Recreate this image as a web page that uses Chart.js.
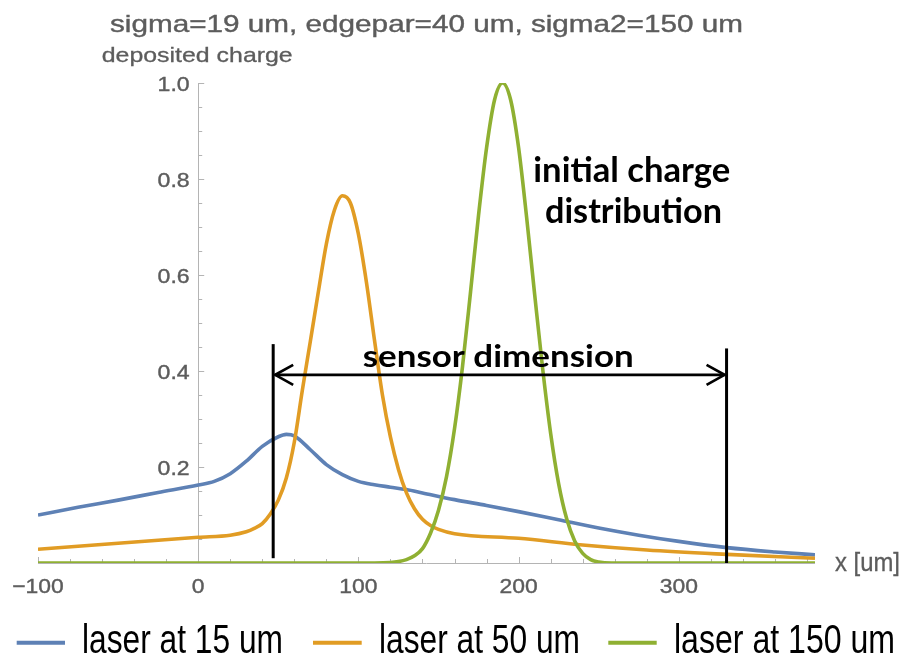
<!DOCTYPE html>
<html>
<head>
<meta charset="utf-8">
<script src="https://cdn.jsdelivr.net/npm/chart.js@4.4.1/dist/chart.umd.min.js"></script>
<style>
  html, body { margin: 0; padding: 0; background: #ffffff; }
  canvas { display: block; }
</style>
</head>
<body>
<canvas id="chart" width="902" height="660"></canvas>
<script>
// Deposited charge profiles for three laser positions
const xs15 = [-100, -75, -50, -25, 0, 10, 20, 30, 40, 50, 55, 60, 70, 80, 90, 100, 110, 120, 130, 140, 160, 180, 200, 225, 250, 275, 300, 330, 360, 385];
const laser15 = [0.100, 0.116, 0.131, 0.147, 0.1625, 0.170, 0.186, 0.212, 0.243, 0.263, 0.268, 0.265, 0.236, 0.205, 0.184, 0.170, 0.163, 0.158, 0.153, 0.146, 0.132, 0.120, 0.107, 0.090, 0.073, 0.058, 0.045, 0.032, 0.023, 0.017];

const xs50 = [-100, -50, 0, 20, 30, 35, 40, 45, 50, 55, 60, 65, 70, 75, 80, 85, 90, 95, 100, 105, 110, 115, 120, 125, 130, 135, 140, 145, 150, 160, 200, 240, 280, 330, 385];
const laser50 = [0.0285, 0.041, 0.0535, 0.058, 0.065, 0.072, 0.082, 0.102, 0.131, 0.177, 0.252, 0.36, 0.462, 0.565, 0.665, 0.735, 0.765, 0.75, 0.685, 0.585, 0.465, 0.35, 0.262, 0.195, 0.146, 0.113, 0.091, 0.078, 0.070, 0.061, 0.0515, 0.0375, 0.027, 0.018, 0.0098];

const xs150 = [-100, 110, 120, 125, 130, 135, 140, 145, 150, 155, 160, 165, 170, 175, 180, 185, 190, 195, 200, 205, 210, 215, 220, 225, 230, 235, 240, 245, 250, 258, 385];
const laser150 = [0, 0, 0.001, 0.003, 0.007, 0.015, 0.03, 0.062, 0.11, 0.18, 0.28, 0.41, 0.565, 0.725, 0.865, 0.965, 1.0, 0.965, 0.865, 0.72, 0.56, 0.405, 0.27, 0.165, 0.092, 0.046, 0.02, 0.007, 0.002, 0, 0];

const seriesNames = ['laser at 15 um', 'laser at 50 um', 'laser at 150 um'];
const seriesColors = ['#5e81b5', '#e19c24', '#8fb032'];

// Axis ticks
const xTicks = [-100, 0, 100, 200, 300];
const xTickLabels = ['\u2212100', '0', '100', '200', '300'];
const xMinorStep = 20;
const yTicks = [0.2, 0.4, 0.6, 0.8, 1.0];
const yTickLabels = ['0.2', '0.4', '0.6', '0.8', '1.0'];
const yMinorStep = 0.05;

// Sensor extent annotation
const sensorEdges = [46.8, 329.8];
const sensorTop = [0.456, 0.447];
const sensorBottom = [0.01, 0];
const arrowLevel = 0.392;

const titleText = 'sigma=19 um, edgepar=40 um, sigma2=150 um';
const yAxisTitle = 'deposited charge';
const xAxisTitle = 'x [um]';

function toPoints(xs, ys) {
  return xs.map((x, i) => ({ x: x, y: ys[i] }));
}

// Draw text, optionally stretched horizontally to a given width
function drawText(ctx, text, x, y, font, color, opts) {
  opts = opts || {};
  ctx.save();
  ctx.font = font;
  ctx.fillStyle = color;
  ctx.textBaseline = 'alphabetic';
  ctx.textAlign = 'left';
  const w = ctx.measureText(text).width;
  const sx = opts.width ? opts.width / w : (opts.sx || 1);
  const dw = w * sx;
  let left = x;
  if (opts.align === 'center') left = x - dw / 2;
  else if (opts.align === 'right') left = x - dw;
  ctx.translate(left, y);
  ctx.scale(sx, 1);
  if (opts.stroke) {
    ctx.strokeStyle = color;
    ctx.lineWidth = opts.stroke;
    ctx.strokeText(text, 0, 0);
  }
  ctx.fillText(text, 0, 0);
  ctx.restore();
}

const GRAY = '#5c5c5c';
const AXIS = '#b4b4b4';

const axesPlugin = {
  id: 'axesPlugin',
  beforeDatasetsDraw(chart) {
    const ctx = chart.ctx;
    const xs = chart.scales.x, ys = chart.scales.y;
    const y0 = ys.getPixelForValue(0);
    const x0 = xs.getPixelForValue(0);
    ctx.save();
    ctx.strokeStyle = AXIS;
    ctx.lineWidth = 1;
    // x axis
    ctx.beginPath();
    ctx.moveTo(xs.getPixelForValue(xs.min), y0 + 0.5);
    ctx.lineTo(xs.getPixelForValue(xs.max), y0 + 0.5);
    ctx.stroke();
    for (let v = xs.min; v <= xs.max; v += xMinorStep) {
      const px = Math.round(xs.getPixelForValue(v)) + 0.5;
      const len = xTicks.includes(v) ? 6 : 4;
      ctx.beginPath();
      ctx.moveTo(px, y0);
      ctx.lineTo(px, y0 - len);
      ctx.stroke();
    }
    // y axis
    ctx.beginPath();
    ctx.moveTo(Math.round(x0) + 0.5, y0);
    ctx.lineTo(Math.round(x0) + 0.5, ys.getPixelForValue(ys.max));
    ctx.stroke();
    for (let k = 1; k * yMinorStep <= ys.max + 1e-9; k++) {
      const v = k * yMinorStep;
      const py = Math.round(ys.getPixelForValue(v)) + 0.5;
      const major = yTicks.some(t => Math.abs(t - v) < 1e-9);
      ctx.beginPath();
      ctx.moveTo(x0, py);
      ctx.lineTo(x0 + (major ? 6 : 4), py);
      ctx.stroke();
    }
    ctx.restore();
  },
  afterDatasetsDraw(chart) {
    const ctx = chart.ctx;
    const xs = chart.scales.x, ys = chart.scales.y;
    const y0 = ys.getPixelForValue(0);
    const x0 = xs.getPixelForValue(0);
    const tickFont = '21px "Liberation Sans", Arial, sans-serif';

    xTicks.forEach((v, i) => {
      drawText(ctx, xTickLabels[i], xs.getPixelForValue(v), y0 + 30, tickFont, GRAY, { align: 'center', sx: 1.09, stroke: 0.4 });
    });
    yTicks.forEach((v, i) => {
      drawText(ctx, yTickLabels[i], x0 - 8.5, ys.getPixelForValue(v) + 7.5, tickFont, GRAY, { align: 'right', sx: 1.1, stroke: 0.4 });
    });

    // titles
    drawText(ctx, titleText, (chart.chartArea.left + chart.chartArea.right) / 2, 32, '24px "Liberation Sans", Arial, sans-serif', GRAY, { align: 'center', width: 633, stroke: 0.4 });
    drawText(ctx, yAxisTitle, x0 - 1, 61.5, '21px "Liberation Sans", Arial, sans-serif', GRAY, { align: 'center', width: 191, stroke: 0.3 });
    drawText(ctx, xAxisTitle, 835, 570.5, '25px "Liberation Sans", Arial, sans-serif', GRAY, { width: 65, stroke: 0.3 });

    // sensor extent lines and arrow
    ctx.save();
    ctx.strokeStyle = '#000000';
    ctx.lineWidth = 3;
    sensorEdges.forEach((e, i) => {
      const px = xs.getPixelForValue(e);
      ctx.beginPath();
      ctx.moveTo(px, ys.getPixelForValue(sensorBottom[i]));
      ctx.lineTo(px, ys.getPixelForValue(sensorTop[i]));
      ctx.stroke();
    });
    const ay = ys.getPixelForValue(arrowLevel);
    const ax1 = xs.getPixelForValue(sensorEdges[0]) + 2;
    const ax2 = xs.getPixelForValue(sensorEdges[1]) - 2;
    ctx.lineWidth = 2.7;
    ctx.lineJoin = 'miter';
    ctx.beginPath();
    ctx.moveTo(ax1, ay);
    ctx.lineTo(ax2, ay);
    ctx.stroke();
    ctx.beginPath();
    ctx.moveTo(ax1 + 18, ay - 10);
    ctx.lineTo(ax1, ay);
    ctx.lineTo(ax1 + 18, ay + 10);
    ctx.stroke();
    ctx.beginPath();
    ctx.moveTo(ax2 - 18, ay - 10);
    ctx.lineTo(ax2, ay);
    ctx.lineTo(ax2 - 18, ay + 10);
    ctx.stroke();
    ctx.restore();

    // annotations
    const bold = 'bold 31px Lato, "Open Sans", sans-serif';
    const bold2 = 'bold 35px Lato, "Open Sans", sans-serif';
    drawText(ctx, 'sensor dimension', 362.7, 366.7, bold, '#000000', { width: 271 });
    drawText(ctx, 'initial charge', 533.3, 181.7, bold2, '#000000', { width: 197 });
    drawText(ctx, 'distribution', 545, 223.3, bold2, '#000000', { width: 177 });

    // legend
    const legendItems = [
      { x1: 16.7, x2: 65, tx: 82, tw: 201 },
      { x1: 313, x2: 361.7, tx: 379, tw: 201 },
      { x1: 608.3, x2: 656.7, tx: 674, tw: 221 }
    ];
    legendItems.forEach((it, i) => {
      ctx.save();
      ctx.strokeStyle = seriesColors[i];
      ctx.lineWidth = 4;
      ctx.beginPath();
      ctx.moveTo(it.x1, 642.7);
      ctx.lineTo(it.x2, 642.7);
      ctx.stroke();
      ctx.restore();
      drawText(ctx, seriesNames[i], it.tx, 653.3, '41px "Liberation Sans", Arial, sans-serif', '#000000', { width: it.tw });
    });
  }
};

new Chart(document.getElementById('chart'), {
  type: 'line',
  data: {
    datasets: [
      { label: seriesNames[0], data: toPoints(xs15, laser15), borderColor: seriesColors[0], order: 3 },
      { label: seriesNames[1], data: toPoints(xs50, laser50), borderColor: seriesColors[1], order: 2 },
      { label: seriesNames[2], data: toPoints(xs150, laser150), borderColor: seriesColors[2], order: 1 }
    ]
  },
  options: {
    responsive: false,
    animation: false,
    devicePixelRatio: 1,
    layout: { padding: { left: 38, right: 87, top: 83, bottom: 97 } },
    scales: {
      x: { type: 'linear', min: -100, max: 385, display: false },
      y: { type: 'linear', min: 0, max: 1, display: false }
    },
    elements: {
      point: { radius: 0, hoverRadius: 0 },
      line: { borderWidth: 3.6, cubicInterpolationMode: 'monotone', fill: false }
    },
    plugins: {
      legend: { display: false },
      title: { display: false },
      tooltip: { enabled: false }
    },
    events: []
  },
  plugins: [axesPlugin]
});
</script>
</body>
</html>
